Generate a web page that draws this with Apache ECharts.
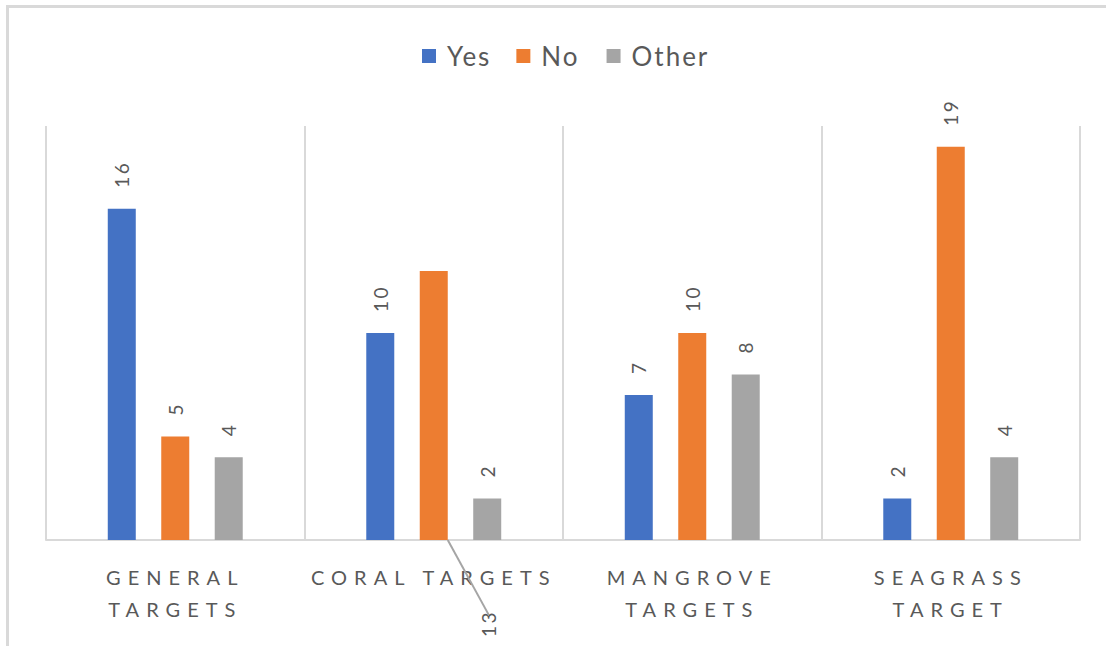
<!DOCTYPE html>
<head>
    <meta charset="utf-8">
    <title>Targets</title>
    <style>
        body { margin: 0; background: #fff; }
        #frame { position: absolute; left: 6px; top: 5px; width: 1200px; height: 700px; border: 3px solid #d9d9d9; }
        #chart { position: absolute; left: 0; top: 0; width: 1106px; height: 646px; }
        /* letter spacing like the original chart style */
        #chart text[style*="20px"] { letter-spacing: 7px; }
        #chart text[style*="19px"] { letter-spacing: 2.5px; }
        #chart text[style*="26px"] { letter-spacing: 2px; }
    </style>
</head>
<body>
    <div id="frame"></div>
    <div id="chart"></div>

    <script src="https://cdn.jsdelivr.net/npm/echarts/dist/echarts.min.js"></script>
    <script type="text/javascript">

    var categories = ['GENERAL\nTARGETS', 'CORAL TARGETS', 'MANGROVE\nTARGETS', 'SEAGRASS\nTARGET'];
    var yes = [16, 10, 7, 2];
    var no = [5, 13, 10, 19];
    var other = [4, 2, 8, 4];

    var myChart = echarts.init(document.getElementById('chart'), null, {renderer: 'svg'});

    var barLabel = {
        show: true,
        position: 'top',
        rotate: 90,
        align: 'left',
        verticalAlign: 'middle',
        distance: 21,
        color: '#595959',
        fontFamily: 'Lato',
        fontSize: 19
    };

    // only the coral "No" label gets moved, with a leader line
    var noData = no.map(function (v, i) {
        if (i === 1) {
            return { value: v, labelLine: { show: true } };
        }
        return v;
    });

    myChart.setOption({
        animation: false,
        textStyle: { fontFamily: 'Lato' },
        legend: {
            data: ['Yes', 'No', 'Other'],
            top: 38,
            left: 417,
            itemWidth: 14,
            itemHeight: 14,
            itemGap: 31,
            icon: 'rect',
            textStyle: { color: '#595959', fontSize: 26, fontFamily: 'Lato', padding: [0, 0, 0, 6] }
        },
        grid: {
            left: 46,
            right: 26,
            top: 126,
            bottom: 106
        },
        xAxis: {
            type: 'category',
            data: categories,
            axisLine: { lineStyle: { color: '#d9d9d9', width: 2 } },
            axisTick: { show: false },
            splitLine: { show: true, lineStyle: { color: '#d9d9d9', width: 2 } },
            axisLabel: {
                interval: 0,
                color: '#595959',
                fontFamily: 'Lato',
                fontSize: 20,
                lineHeight: 32,
                margin: 21
            }
        },
        yAxis: {
            type: 'value',
            min: 0,
            max: 20,
            show: false,
            splitLine: { show: false }
        },
        series: [
            {
                name: 'Yes',
                type: 'bar',
                data: yes,
                barWidth: 28,
                barGap: '91%',
                itemStyle: { color: '#4472c4' },
                label: barLabel
            },
            {
                name: 'No',
                type: 'bar',
                data: noData,
                barWidth: 28,
                itemStyle: { color: '#ed7d31' },
                label: barLabel,
                labelLine: { show: false, lineStyle: { color: '#a5a5a5', width: 2 } },
                labelLayout: function (params) {
                    // the 13 label sits below the axis in the original
                    if (params.dataIndex === 1) {
                        return { dx: -387, dy: 55 };
                    }
                    return {};
                }
            },
            {
                name: 'Other',
                type: 'bar',
                data: other,
                barWidth: 28,
                itemStyle: { color: '#a5a5a5' },
                label: barLabel
            }
        ]
    });

    </script>
</body>
